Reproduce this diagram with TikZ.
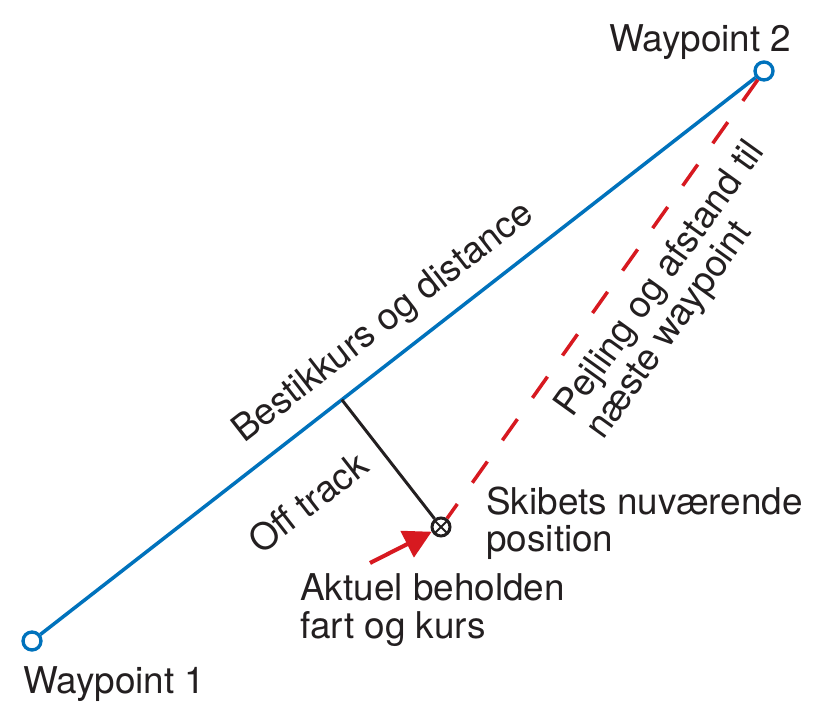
\documentclass[tikz,border=0pt]{standalone}
\usepackage{fontspec}
\setmainfont{TeX Gyre Heros}
\usetikzlibrary{calc, arrows.meta}

\definecolor{trackblue}{RGB}{0,114,188}
\definecolor{markred}{RGB}{215,25,32}
\definecolor{ink}{RGB}{35,31,32}

\begin{document}
\begin{tikzpicture}[x=0.02cm, y=-0.02cm,
      font=\fontsize{21}{21.2}\selectfont,
      lbl/.style={inner sep=0pt, text=ink},
      wpt/.style={circle, draw=trackblue, line width=1.9pt, fill=white, minimum size=0.36cm, inner sep=0pt},
      shippos/.style={circle, draw=ink, line width=1.7pt, fill=white, minimum size=0.36cm, inner sep=0pt,
        path picture={\draw[ink, line width=1.1pt]
          (path picture bounding box.north west) -- (path picture bounding box.south east)
          (path picture bounding box.north east) -- (path picture bounding box.south west);}},
      track/.style={trackblue, line width=2pt},
      bearing/.style={markred, line width=2pt, dash pattern=on 0.52cm off 0.52cm},
      offtrk/.style={ink, line width=1.7pt},
      headarrow/.style={markred, line width=2.3pt, -{Triangle[length=0.55cm 0 0, width=0.58cm 0 0]}}
    ]
    \useasboundingbox (0,0) rectangle (835,722);

    % waypoints and present position
    \node[wpt] (wp1) at (32,641) {};
    \node[wpt] (wp2) at (764,71) {};
    \node[shippos] (ship) at (441,527) {};

    \node[lbl, anchor=base west] (wp1txt) at (23,693) {Waypoint 1};
    \node[lbl, anchor=base west] (wp2txt) at (609,52) {Waypoint 2};

    % planned track
    \draw[track] (wp1) -- (wp2)
      node[lbl, pos=0.51, sloped, anchor=base, yshift=0.5cm] (tracktxt) {Bestikkurs og distance};

    % bearing to next waypoint (base = last line)
    \draw[bearing] (wp2) -- (ship);
    \node[lbl, rotate=54.3, anchor=base west, align=left] (bearingtxt) at (603,441)
      {Pejling og afstand til\\næste waypoint};

    % cross track error
    \coordinate (foot) at ($(wp1)!(ship)!(wp2)$);
    \draw[offtrk] (foot) -- (ship);
    \node[lbl, rotate=37.9, anchor=base] (offtxt) at (316,513) {Off track};

    % course and speed over ground
    \coordinate (tail) at (370,563);
    \draw[headarrow] (tail) -- (ship);

    \node[lbl, anchor=base west, align=left] (shiptxt) at (486,552) {Skibets nuværende\\position};
    \node[lbl, anchor=base west, align=left] (cogtxt) at (300,638) {Aktuel beholden\\fart og kurs};
  \end{tikzpicture}
\end{document}
